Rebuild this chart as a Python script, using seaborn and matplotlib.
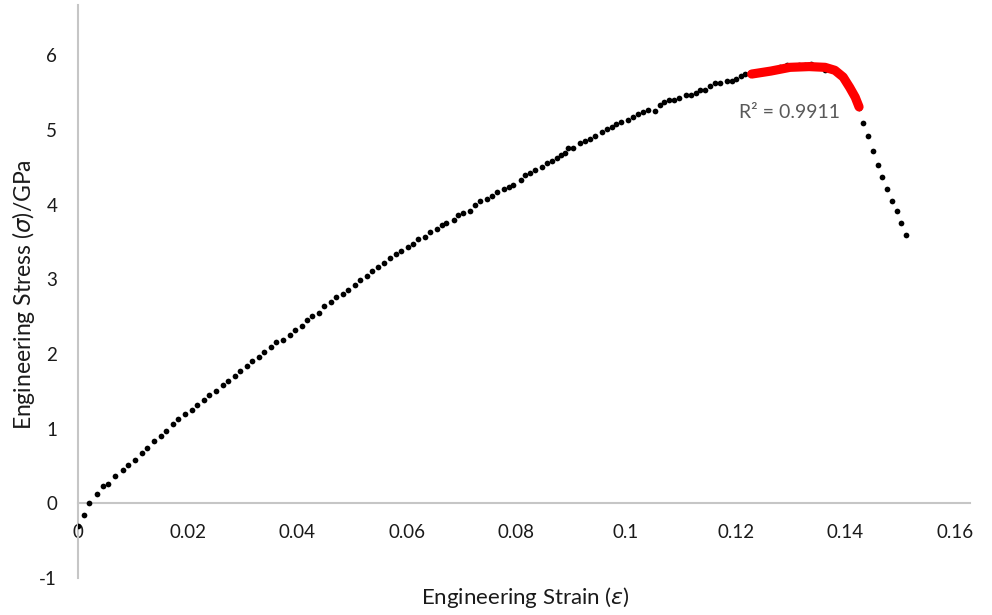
import matplotlib
matplotlib.use("Agg")
import matplotlib.pyplot as plt
import seaborn as sns
import pandas as pd

# ---- data ----
strain = [
    0.00000, 0.00115, 0.00206, 0.00338, 0.00465, 0.00556, 0.00684, 0.00816, 0.00907, 0.01034,
    0.01168, 0.01259, 0.01387, 0.01520, 0.01606, 0.01739, 0.01824, 0.01952, 0.02085, 0.02171,
    0.02299, 0.02390, 0.02518, 0.02640, 0.02737, 0.02870, 0.02956, 0.03089, 0.03180, 0.03308,
    0.03399, 0.03527, 0.03613, 0.03746, 0.03873, 0.03965, 0.04092, 0.04184, 0.04269, 0.04402,
    0.04494, 0.04621, 0.04707, 0.04840, 0.04932, 0.05054, 0.05145, 0.05273, 0.05364, 0.05474,
    0.05583, 0.05692, 0.05802, 0.05888, 0.06021, 0.06107, 0.06198, 0.06331, 0.06417, 0.06544,
    0.06636, 0.06720, 0.06855, 0.06939, 0.07025, 0.07157, 0.07243, 0.07329, 0.07462, 0.07553,
    0.07639, 0.07772, 0.07858, 0.07942, 0.08077, 0.08161, 0.08247, 0.08338, 0.08471, 0.08557,
    0.08643, 0.08739, 0.08812, 0.08885, 0.08946, 0.09031, 0.09165, 0.09250, 0.09341, 0.09433,
    0.09560, 0.09646, 0.09737, 0.09821, 0.09913, 0.10040, 0.10131, 0.10217, 0.10308, 0.10394,
    0.10522, 0.10613, 0.10697, 0.10788, 0.10874, 0.10965, 0.11093, 0.11179, 0.11270, 0.11354,
    0.11445, 0.11531, 0.11617, 0.11708, 0.11841, 0.11927, 0.12010, 0.12102, 0.12170, 0.12260,
    0.12370, 0.12480, 0.12590, 0.12700, 0.12810, 0.12940, 0.13050, 0.13150, 0.13260, 0.13370,
    0.13500, 0.13630, 0.13750, 0.13870, 0.13980, 0.14060, 0.14130, 0.14190, 0.14240, 0.14322,
    0.14413, 0.14499, 0.14590, 0.14674, 0.14760, 0.14851, 0.14937, 0.15021, 0.15107,
]
stress = [
    -0.31, -0.15, 0.00, 0.13, 0.23, 0.26, 0.36, 0.45, 0.52, 0.58,
    0.68, 0.74, 0.84, 0.90, 0.97, 1.06, 1.13, 1.19, 1.25, 1.32,
    1.38, 1.45, 1.51, 1.58, 1.64, 1.71, 1.77, 1.84, 1.90, 1.96,
    2.03, 2.09, 2.16, 2.19, 2.25, 2.32, 2.38, 2.45, 2.51, 2.55,
    2.64, 2.70, 2.77, 2.80, 2.86, 2.92, 2.99, 3.05, 3.11, 3.17,
    3.22, 3.28, 3.34, 3.38, 3.44, 3.47, 3.54, 3.57, 3.63, 3.67,
    3.73, 3.76, 3.79, 3.86, 3.89, 3.92, 3.99, 4.05, 4.08, 4.12,
    4.17, 4.21, 4.24, 4.27, 4.33, 4.40, 4.43, 4.46, 4.50, 4.56,
    4.59, 4.63, 4.66, 4.69, 4.76, 4.76, 4.82, 4.85, 4.88, 4.92,
    4.98, 5.01, 5.04, 5.08, 5.11, 5.14, 5.17, 5.21, 5.24, 5.27,
    5.26, 5.34, 5.37, 5.40, 5.40, 5.43, 5.47, 5.47, 5.50, 5.53,
    5.53, 5.59, 5.63, 5.63, 5.66, 5.66, 5.69, 5.72, 5.75, 5.76,
    5.78, 5.79, 5.80, 5.82, 5.84, 5.87, 5.86, 5.87, 5.87, 5.89,
    5.86, 5.80, 5.82, 5.76, 5.70, 5.60, 5.50, 5.40, 5.30, 5.10,
    4.92, 4.72, 4.53, 4.37, 4.21, 4.05, 3.92, 3.76, 3.60,
]

# red fitted segment near the peak
fit_strain = [0.12291, 0.12640, 0.12990, 0.13340, 0.13630, 0.13810, 0.13960, 0.14080, 0.14180, 0.14250]
fit_stress = [5.75, 5.79, 5.84, 5.85, 5.84, 5.80, 5.71, 5.57, 5.44, 5.31]
r2_text = "R² = 0.9911"

x_ticks = [0, 0.02, 0.04, 0.06, 0.08, 0.10, 0.12, 0.14, 0.16]
x_tick_labels = ["0", "0.02", "0.04", "0.06", "0.08", "0.1", "0.12", "0.14", "0.16"]
y_ticks = [-1, 0, 1, 2, 3, 4, 5, 6]
y_tick_labels = ["-1", "0", "1", "2", "3", "4", "5", "6"]

df = pd.DataFrame({"strain": strain, "stress": stress})
fit = pd.DataFrame({"strain": fit_strain, "stress": fit_stress})

# ---- drawing ----
sns.set_theme(style="white")
plt.rcParams["font.family"] = ["Lato", "DejaVu Sans"]

fig = plt.figure(figsize=(9.92, 6.15), dpi=100)
ax = fig.add_axes([78 / 992, 37 / 615, 892 / 992, 573 / 615])

sns.scatterplot(data=df, x="strain", y="stress", color="black", s=17,
                linewidth=0, ax=ax, zorder=3)
sns.lineplot(data=fit, x="strain", y="stress", color="#FF0000", linewidth=6.6,
             ax=ax, zorder=4, solid_capstyle="round", solid_joinstyle="round")

ax.set_xlim(0, 0.16274)
ax.set_ylim(-1, 6.675)
ax.set_xticks(x_ticks)
ax.set_xticklabels(x_tick_labels)
ax.set_yticks(y_ticks)
ax.set_yticklabels(y_tick_labels)

for s in ["top", "right"]:
    ax.spines[s].set_visible(False)
ax.spines["bottom"].set_position(("data", 0))
for s in ["left", "bottom"]:
    ax.spines[s].set_color("#C6C6C6")
    ax.spines[s].set_linewidth(1.5)
    ax.spines[s].set_zorder(1)

ax.tick_params(axis="x", length=0, pad=15, labelsize=13.5, colors="#1a1a1a")
ax.tick_params(axis="y", length=0, pad=15, labelsize=13.5, colors="#1a1a1a")
ax.grid(False)

ax.set_xlabel(r"Engineering Strain ($\epsilon$)", fontsize=16, color="#1a1a1a")
ax.xaxis.set_label_coords(525 / 992, 1 - 598 / 615, transform=fig.transFigure)
ax.xaxis.label.set_va("center")
ax.set_ylabel(r"Engineering Stress ($\sigma$)/GPa", fontsize=16.5, color="#1a1a1a")
ax.yaxis.set_label_coords(24 / 992, 1 - 295 / 615, transform=fig.transFigure)
ax.yaxis.label.set_va("center")

ax.text(0.1206, 5.24, r2_text, fontsize=14, color="#595959", ha="left", va="center")

fig.savefig("out.png", dpi=100)
